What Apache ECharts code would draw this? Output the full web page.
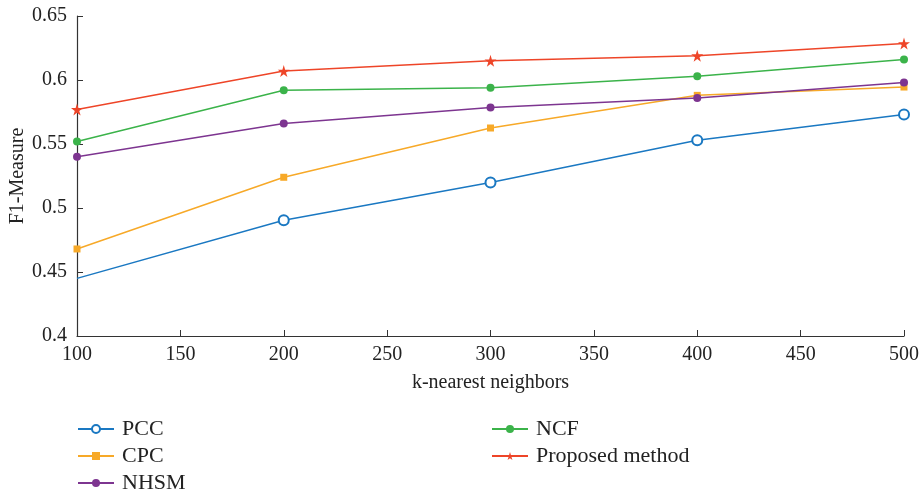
<!DOCTYPE html>
<html>
<head>
<meta charset="utf-8">
<script src="https://cdn.jsdelivr.net/npm/echarts@6/dist/echarts.min.js"></script>
<style>
  html, body { margin: 0; padding: 0; background: #fff; }
  #chart { width: 923px; height: 493px; }
</style>
</head>
<body>
<div id="chart"></div>
<script>
// k-nearest neighbors
const kValues = [100, 200, 300, 400, 500]
const pcc = [0.445, 0.4905, 0.520, 0.553, 0.573]
const cpc = [0.468, 0.524, 0.5625, 0.588, 0.5945]
const nhsm = [0.540, 0.566, 0.5785, 0.586, 0.598]
const ncf = [0.552, 0.592, 0.594, 0.603, 0.616]
const proposed = [0.577, 0.607, 0.615, 0.619, 0.6285]

const fontFamily = '"Liberation Serif", "DejaVu Serif", serif'

const makeSeries = (name, vals, color, symbol, size, hideFirst) => ({
  name: name,
  type: 'line',
  // PCC's first marker is not drawn in the original figure
  data: kValues.map((k, i) => (hideFirst && i === 0 ? { value: [k, vals[i]], symbol: 'none' } : [k, vals[i]])),
  symbol: symbol,
  symbolSize: size,
  showAllSymbol: true,
  lineStyle: { color: color, width: 1.5 },
  itemStyle: symbol === 'emptyCircle'
    ? { color: color, borderColor: color, borderWidth: 1.5 }
    : { color: color, borderWidth: 0 },
  color: color
})

const legendText = { fontFamily: fontFamily, fontSize: 22, color: '#222', padding: [0, 0, 0, 3] }

const myChart = echarts.init(document.getElementById('chart'))
const option = {
  animation: false,
  textStyle: { fontFamily: fontFamily },
  grid: {
    left: 77,
    right: 19,
    top: 16,
    bottom: 157,
    outerBoundsMode: 'none'
  },
  legend: [
    {
      left: 72,
      top: 413,
      height: 80,
      orient: 'vertical',
      itemGap: 5,
      itemWidth: 36,
      itemHeight: 10,
      textStyle: legendText,
      data: ['PCC', 'CPC', 'NHSM']
    },
    {
      left: 486,
      top: 413,
      height: 80,
      orient: 'vertical',
      itemGap: 5,
      itemWidth: 36,
      itemHeight: 10,
      textStyle: legendText,
      data: ['NCF', 'Proposed method']
    }
  ],
  xAxis: {
    type: 'value',
    min: 100,
    max: 500,
    interval: 50,
    name: 'k-nearest neighbors',
    nameLocation: 'middle',
    nameGap: 37,
    nameTextStyle: { fontFamily: fontFamily, fontSize: 20, color: '#222' },
    axisLine: { lineStyle: { color: '#333', width: 1.2 } },
    axisTick: { inside: true, length: 6, lineStyle: { color: '#333' } },
    axisLabel: { fontFamily: fontFamily, fontSize: 20, color: '#222', margin: 9 },
    splitLine: { show: false }
  },
  yAxis: {
    type: 'value',
    min: 0.4,
    max: 0.65,
    interval: 0.05,
    name: 'F1-Measure',
    nameLocation: 'middle',
    nameGap: 49,
    nameMoveOverlap: false,
    nameTextStyle: { fontFamily: fontFamily, fontSize: 20, color: '#222' },
    axisLine: { show: true, lineStyle: { color: '#333', width: 1.2 } },
    axisTick: { show: true, inside: true, length: 6, lineStyle: { color: '#333' } },
    axisLabel: { fontFamily: fontFamily, fontSize: 20, color: '#222', margin: 10 },
    splitLine: { show: false }
  },
  series: [
    makeSeries('PCC', pcc, '#1a78c2', 'emptyCircle', 10, true),
    makeSeries('CPC', cpc, '#f7a928', 'rect', 7),
    makeSeries('NHSM', nhsm, '#7d3590', 'circle', 8),
    makeSeries('NCF', ncf, '#3bb34a', 'circle', 8),
    makeSeries('Proposed method', proposed, '#ee4528', 'path://M50,0 L61,35 L98,35 L68,57 L79,91 L50,70 L21,91 L32,57 L2,35 L39,35 Z', 12)
  ]
}
option && myChart.setOption(option)
</script>
</body>
</html>
